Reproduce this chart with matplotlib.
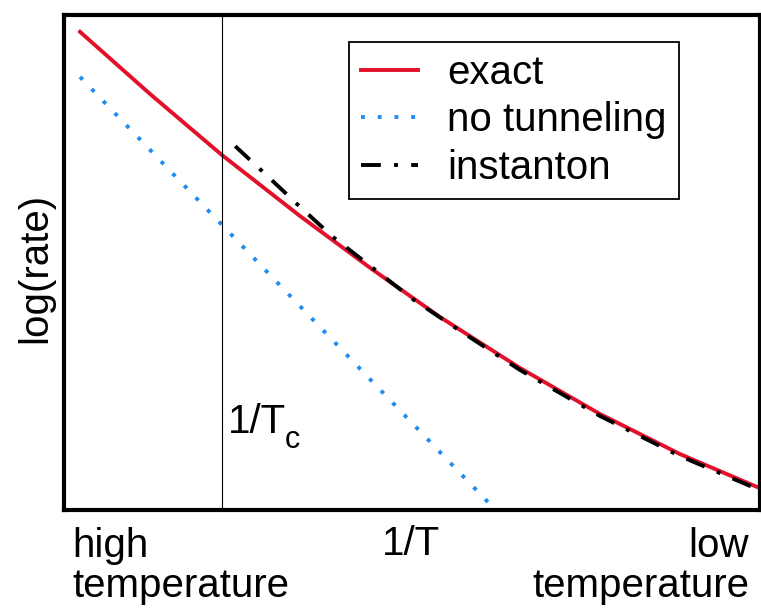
import matplotlib

matplotlib.use("Agg")

import matplotlib.pyplot as plt

# curves (arbitrary units: x = 1/T, y = log(rate))
EXACT_X = [0.23, 1.24, 2.27, 3.39, 4.40, 5.40, 6.55, 7.70, 8.85, 10.0]
EXACT_Y = [9.66, 8.40, 7.17, 5.94, 4.89, 3.90, 2.87, 1.94, 1.13, 0.44]

NO_TUNNEL_X = [0.23, 6.20]
NO_TUNNEL_Y = [8.75, 0.0]

INSTANTON_X = [2.46, 2.89, 3.35, 3.86, 4.40, 5.01, 5.69, 6.55, 7.70, 8.85, 10.0]
INSTANTON_Y = [7.35, 6.79, 6.18, 5.52, 4.93, 4.26, 3.62, 2.83, 1.90, 1.09, 0.40]

TC_X = 2.27
LABELS = ["exact", "no tunneling", "instanton"]

RED = "#e3102a"
BLUE = "#1e8cf0"
FS = 29
LW = 2.8

plt.rcParams.update({"font.family": "Liberation Sans"})

W, H = 761, 608
fig = plt.figure(figsize=(W / 100, H / 100), dpi=100)
ax = fig.add_axes([64 / W, 98 / H, 696 / W, 495 / H])

ax.plot(EXACT_X, EXACT_Y, color=RED, lw=LW, label=LABELS[0])
ax.plot(NO_TUNNEL_X, NO_TUNNEL_Y, color=BLUE, lw=LW, dashes=(1, 3.3), label=LABELS[1])
ax.plot(INSTANTON_X, INSTANTON_Y, color="black", lw=LW, dashes=(5.1, 3.4, 1, 3.4), label=LABELS[2])
ax.axvline(TC_X, color="black", lw=0.8)

ax.set_xlim(0, 10)
ax.set_ylim(0, 10)
ax.set_xticks([])
ax.set_yticks([])
for spine in ax.spines.values():
    spine.set_linewidth(3)

leg = ax.legend(
    loc="upper right",
    bbox_to_anchor=((679 - 64) / 696, (510 - 42) / 495),
    borderaxespad=0,
    fontsize=FS,
    frameon=True,
    fancybox=False,
    framealpha=1,
    edgecolor="black",
    handlelength=1.4,
    handletextpad=0.74,
    labelspacing=0.23,
    borderpad=0.3,
)
leg.get_frame().set_linewidth(1.3)


def fig_text(px, py, s, size=FS, **kw):
    fig.text(px / W, 1 - py / H, s, fontsize=size, **kw)


# 1/Tc label, subscript set lower as in the original
fig_text(228, 433, "1/T", ha="left", va="baseline")
fig_text(285, 448, "c", size=22, ha="left", va="baseline")

fig_text(72, 557, "high", ha="left", va="baseline")
fig_text(72, 597, "temperature", ha="left", va="baseline")
fig_text(749, 557, "low", ha="right", va="baseline")
fig_text(749, 597, "temperature", ha="right", va="baseline")
fig_text(411, 555, "1/T", ha="center", va="baseline")
fig_text(35, 268, "log(rate)", ha="center", va="center", rotation=90)

fig.savefig("out.png", dpi=100)
